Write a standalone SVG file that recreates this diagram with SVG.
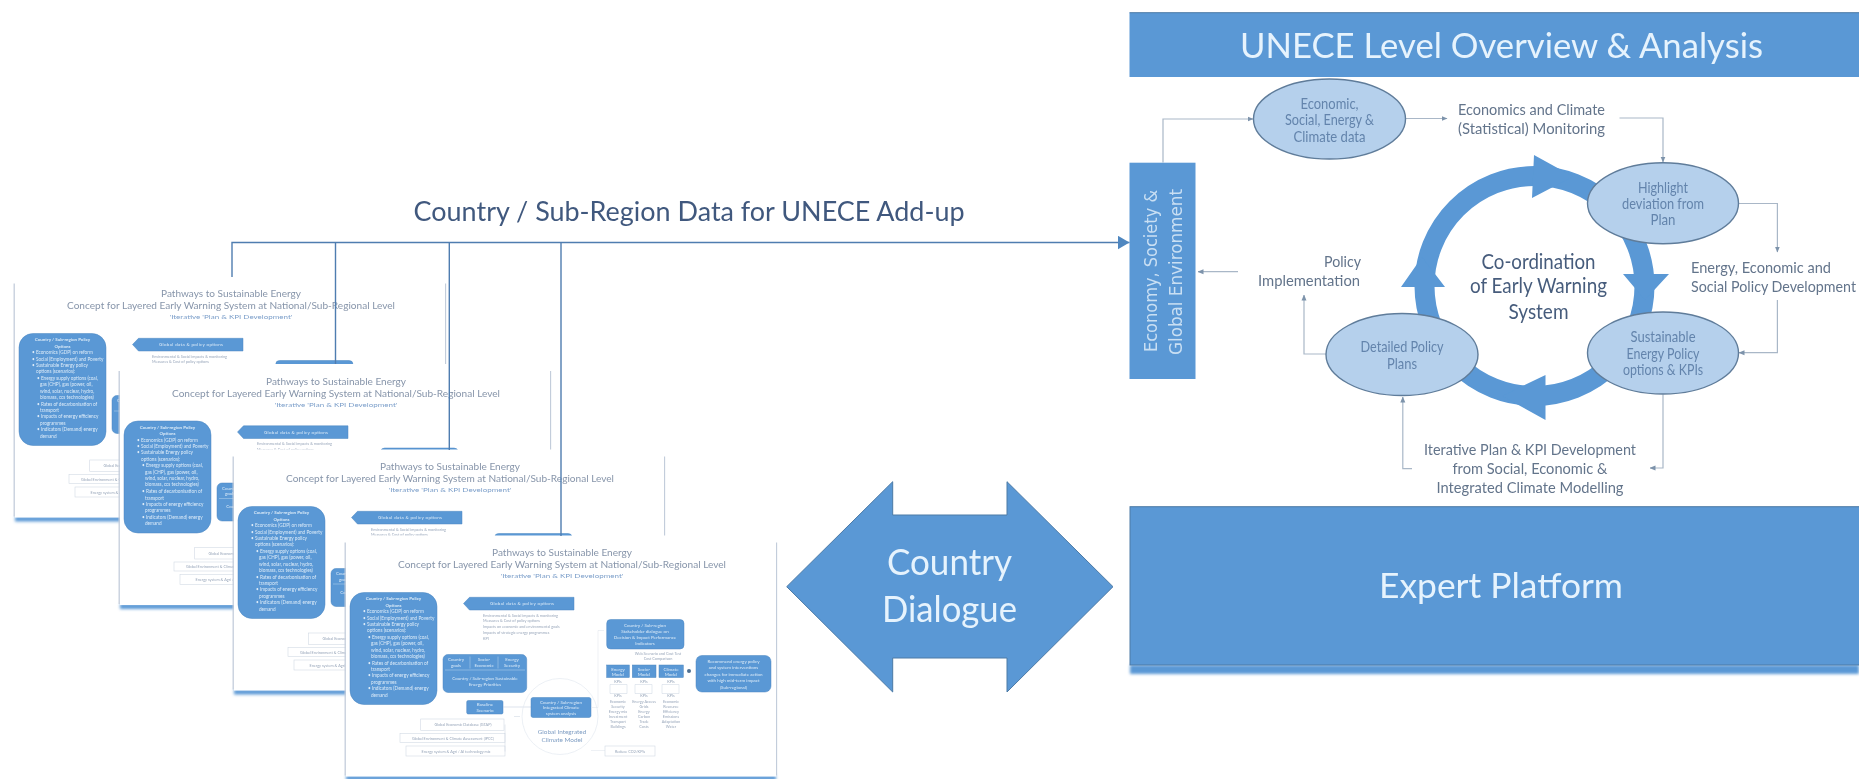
<svg xmlns="http://www.w3.org/2000/svg" xmlns:xlink="http://www.w3.org/1999/xlink" width="1859" height="779" viewBox="0 0 1859 779">
<style>
text{font-family:Lato,"Open Sans","Liberation Sans",sans-serif}
#connectors,#top-label,#country-dialogue,#unece-overview,#expert-platform,#economy-society,#cycle,#node-data,#node-deviation,#node-options,#node-plans,#label-monitoring,#label-policy-dev,#label-iterative,#label-implementation{filter:url(#b0)}
.blue{fill:#5a98d5}
.edge{stroke:#4c7aa6;stroke-width:1}
.band{fill:#5a98d5;filter:url(#b2)}
.ell{fill:#b5d0ec;stroke:#5f7c9a;stroke-width:1.4}
.ellt{fill:#6384ac;font-size:15px;text-anchor:middle}
.side{fill:#63748b;font-size:16px}
.ctr{fill:#465c7c;font-size:21px;text-anchor:middle}
.wt{fill:#e6f3fd}
.cn{fill:none;stroke:#a9b7c7;stroke-width:1.2;marker-end:url(#sm)}
.cm{fill:none;stroke:#4f7db0;stroke-width:1.4}
.s1{fill:#8795aa;font-size:9.6px;text-anchor:middle}
.s2{fill:#7c9fca;font-size:6.4px;text-anchor:middle}
.sw{fill:#dcebf8;font-size:4.7px}
.swc{fill:#dcebf8;font-size:4.5px;text-anchor:middle}
.sg{fill:#98a6ba;font-size:3.8px}
.sgc{fill:#98a6ba;font-size:3.8px;text-anchor:middle}
.so{fill:#fff;stroke:#d2dae4;stroke-width:.6}
.sb{fill:#5a98d5;stroke:#4c86c0;stroke-width:.5}
</style>
<defs>
<filter id="b2" x="-5%" y="-100%" width="110%" height="300%"><feGaussianBlur stdDeviation="1.6"/></filter>
<filter id="b1" x="-2%" y="-2%" width="104%" height="104%"><feGaussianBlur stdDeviation="0.7"/></filter>
<filter id="b0" x="-2%" y="-2%" width="104%" height="104%"><feGaussianBlur stdDeviation="0.4"/></filter>
<marker id="sm" viewBox="0 0 6 6" refX="5.5" refY="3" markerWidth="6" markerHeight="6" markerUnits="userSpaceOnUse" orient="auto"><path d="M0 .5L6 3L0 5.5z" fill="#7d93ab"/></marker>
<marker id="mm" viewBox="0 0 12 14" refX="12" refY="7" markerWidth="12" markerHeight="14" markerUnits="userSpaceOnUse" orient="auto"><path d="M0 0L12 7L0 14z" fill="#4f87c0"/></marker>
<g id="slide">
<rect class="band" x="0" y="240" width="430" height="5"/>
<path d="M-.8 7V240M430.5 7V240" fill="none" stroke="#c3cddb" stroke-width="1.3"/>
<rect x="0" y="0" width="430" height="241" fill="#fff"/>
<g filter="url(#b1)">
<text class="s1" x="216" y="20.5" textLength="140" lengthAdjust="spacingAndGlyphs">Pathways to Sustainable Energy</text>
<text class="s1" x="216" y="32.5" textLength="328" lengthAdjust="spacingAndGlyphs">Concept for Layered Early Warning System at National/Sub-Regional Level</text>
<text class="s2" x="216" y="42.5" textLength="123" lengthAdjust="spacingAndGlyphs">'Iterative 'Plan &amp; KPI Development'</text>
<rect class="sb" x="4" y="57" width="87" height="112" rx="14"/>
<text class="swc" x="47.5" y="64.5" font-weight="700">Country / Sub-region Policy</text>
<text class="swc" x="47.5" y="71" font-weight="700">Options</text>
<text class="sw" x="17" y="77.5">• Economics (GDP) on reform</text>
<text class="sw" x="17" y="84">• Social (Employment) and Poverty</text>
<text class="sw" x="17" y="90">• Sustainable Energy policy</text>
<text class="sw" x="21" y="96.5">options (scenarios):</text>
<text class="sw" x="22" y="103">• Energy supply options (coal,</text>
<text class="sw" x="25" y="109.5">gas (CHP), gas (power, oil,</text>
<text class="sw" x="25" y="116">wind, solar, nuclear, hydro,</text>
<text class="sw" x="25" y="122">biomass, ccs technologies)</text>
<text class="sw" x="22" y="129">• Rates of decarbonisation of</text>
<text class="sw" x="25" y="135.5">transport</text>
<text class="sw" x="22" y="141.5">• Impacts of energy efficiency</text>
<text class="sw" x="25" y="148">programmes</text>
<text class="sw" x="22" y="154.5">• Indicators (Demand) energy</text>
<text class="sw" x="25" y="161">demand</text>
<path class="sb" d="M117.5 68L123.5 61.8H228V74.5H123.5z"/>
<text class="swc" x="176" y="69.5" textLength="64">Global data &amp; policy options</text>
<g class="sg">
<text x="137" y="81">Environmental &amp; Social impacts &amp; monitoring</text>
<text x="137" y="86.8">Measures &amp; Cost of policy options</text>
<text x="137" y="92.6">Impacts on economic and environmental goals</text>
<text x="137" y="98.4">Impacts of strategic energy programmes</text>
<text x="137" y="104.2">KPI</text>
</g>
<rect class="sb" x="97" y="119" width="83.7" height="38" rx="5"/>
<text class="swc" x="110" y="125.5">Country</text><text class="swc" x="110" y="131">goals</text>
<text class="swc" x="138" y="125.5">Socio-</text><text class="swc" x="138" y="131">Economic</text>
<text class="swc" x="166" y="125.5">Energy</text><text class="swc" x="166" y="131">Security</text>
<path d="M124 121V133M152 121V133M99 134.5H179" stroke="#cfe2f5" stroke-width=".4" fill="none"/>
<text class="swc" x="139" y="144">Country / Sub-region Sustainable</text>
<text class="swc" x="139" y="150.5">Energy Priorities</text>
<rect class="sb" x="120.7" y="165" width="36.3" height="13.5" rx="1.5"/>
<text class="swc" x="139" y="170.5">Baseline</text><text class="swc" x="139" y="176">Scenario</text>
<path d="M157 171.5H185" stroke="#b8c7d8" stroke-width=".5"/>
<circle cx="214" cy="181" r="38" fill="none" stroke="#e4eaf1" stroke-width=".7"/>
<rect class="sb" x="185" y="162" width="60" height="20" rx="2"/>
<text class="swc" x="215" y="168">Country / Sub-region</text>
<text class="swc" x="215" y="173.5">Integrated Climate</text>
<text class="swc" x="215" y="179">system analysis</text>
<text x="216" y="198" font-size="6.4" fill="#7d9cc2" text-anchor="middle">Global Integrated</text>
<text x="216" y="206" font-size="6.4" fill="#7d9cc2" text-anchor="middle">Climate Model</text>
<rect class="so" x="74.7" y="183.5" width="83.3" height="11.5"/>
<rect class="so" x="54" y="198" width="105" height="9"/>
<rect class="so" x="60" y="210.5" width="99" height="10"/>
<text class="sgc" x="117" y="190.5">Global Economic Database (GTAP)</text>
<text class="sgc" x="107" y="204">Global Environment &amp; Climate Assessment (IPCC)</text>
<text class="sgc" x="110" y="217">Energy system &amp; Agri / AI technology mix</text>
<path d="M159 189V216M168 181H174" fill="none" stroke="#c9d3df" stroke-width=".5"/>
<path d="M245 215H259M258 95H252V172H245" fill="none" stroke="#dde3ea" stroke-width=".5"/>
<rect class="so" x="259" y="210.5" width="50" height="10"/>
<text class="sgc" x="284" y="217">Reduce CO2/KPIs</text>
<rect class="sb" x="260.7" y="84" width="77.3" height="29.5" rx="4"/>
<text class="swc" x="299" y="91">Country / Sub-region</text>
<text class="swc" x="299" y="97">Stakeholder dialogue on</text>
<text class="swc" x="299" y="103">Decision &amp; Impact Performance</text>
<text class="swc" x="299" y="109">Indicators</text>
<text class="sgc" x="312" y="119.5">Web Scenario and Cost Test</text>
<text class="sgc" x="312" y="124.5">Cost Comparison</text>
<rect class="sb" x="260.7" y="129.5" width="22.6" height="12.5"/>
<rect class="sb" x="286.3" y="129.5" width="23.7" height="12.5"/>
<rect class="sb" x="313" y="129.5" width="24.3" height="12.5"/>
<text class="swc" x="272" y="135">Energy</text><text class="swc" x="272" y="140">Model</text>
<text class="swc" x="298" y="135">Socio-</text><text class="swc" x="298" y="140">Model</text>
<text class="swc" x="325" y="135">Climate</text><text class="swc" x="325" y="140">Model</text>
<circle cx="343" cy="135.5" r="2" fill="#4f6f92"/>
<path d="M264 149H281V158H264zM289 149H306V158H289zM316 149H333V158H316z" fill="#fff" stroke="#cbd5e0" stroke-width=".5"/>
<g class="sgc">
<text x="272" y="147">KPIs</text><text x="298" y="147">KPIs</text><text x="325" y="147">KPIs</text>
<text x="272" y="161.5">KPIs</text><text x="298" y="161.5">KPIs</text><text x="325" y="161.5">KPIs</text>
<text x="272" y="167">Economic</text><text x="298" y="167">Energy Access</text><text x="325" y="167">Economic</text>
<text x="272" y="172">Security</text><text x="298" y="172">Grids</text><text x="325" y="172">Resource</text>
<text x="272" y="177">Energy mix</text><text x="298" y="177">Energy</text><text x="325" y="177">Efficiency</text>
<text x="272" y="182">Investment</text><text x="298" y="182">Carbon</text><text x="325" y="182">Emissions</text>
<text x="272" y="187">Transport</text><text x="298" y="187">Trade</text><text x="325" y="187">Adaptation</text>
<text x="272" y="192">Buildings</text><text x="298" y="192">Costs</text><text x="325" y="192">Water</text>
</g>
<rect class="sb" x="350" y="120" width="75" height="36.5" rx="6"/>
<text class="swc" x="387.5" y="127">Recommend energy policy</text>
<text class="swc" x="387.5" y="133.5">and system interventions</text>
<text class="swc" x="387.5" y="140">changes for immediate action</text>
<text class="swc" x="387.5" y="146.5">with high mid-term impact</text>
<text class="swc" x="387.5" y="153">(Sub-regional)</text>
</g>
</g>
</defs>
<rect width="1859" height="779" fill="#fff"/>
<g id="slide-1"><use href="#slide" x="15" y="276.5"/></g>
<g id="slide-2"><use href="#slide" x="120" y="364"/></g>
<g id="slide-3"><use href="#slide" x="234" y="449.5"/></g>
<g id="slide-4"><use href="#slide" x="346" y="535.5"/></g>
<g id="connectors">
<path class="cm" d="M232 277V242.5H1129.5" marker-end="url(#mm)"/>
<path class="cm" d="M335.5 243V364M449.3 243V450M561 243V536"/>
<path class="cn" d="M1163 162.5V119H1253"/>
<path class="cn" d="M1405 118.500H1447"/>
<path class="cn" d="M1619.500 118H1663V162"/>
<path class="cn" d="M1738 203.500H1777.400V252"/>
<path class="cn" d="M1777.400 300V352.700H1739"/>
<path class="cn" d="M1663 394.500V468H1650"/>
<path class="cn" d="M1412 468.700H1402.800V397"/>
<path class="cn" d="M1326 354H1304V295"/>
<path class="cn" d="M1238 271.700H1198"/>
</g>
<g id="top-label"><text x="413.600" y="220.700" font-size="27" fill="#41597e" textLength="551" lengthAdjust="spacingAndGlyphs">Country / Sub-Region Data for UNECE Add-up</text></g>
<g id="country-dialogue">
<path class="blue edge" d="M786.700 586.700L892.700 481.700V515H1007V481.700L1113 586.700L1007 692V658H892.700V692z"/>
<text class="wt" x="949.500" y="575" font-size="36" text-anchor="middle" textLength="125" lengthAdjust="spacingAndGlyphs">Country</text>
<text class="wt" x="949.500" y="622" font-size="36" text-anchor="middle" textLength="135" lengthAdjust="spacingAndGlyphs">Dialogue</text>
</g>
<g id="unece-overview">
<rect class="blue" x="1129.500" y="12.700" width="730" height="64.300"/>
<path d="M1129.500 12.700H1859" stroke="#4c7aa6" stroke-width="1"/>
<text class="wt" x="1240" y="58" font-size="35" textLength="523" lengthAdjust="spacingAndGlyphs">UNECE Level Overview &amp; Analysis</text>
</g>
<g id="expert-platform">
<rect class="band" x="1130" y="665" width="729" height="9"/>
<rect class="blue edge" x="1130" y="506.700" width="735" height="158.300"/>
<text class="wt" x="1379" y="598" font-size="35" textLength="244" lengthAdjust="spacingAndGlyphs">Expert Platform</text>
</g>
<g id="economy-society">
<rect class="blue" x="1129.500" y="162.700" width="66" height="216.300"/>
<text x="0" y="0" transform="translate(1157 271) rotate(-90)" font-size="17" fill="#c9dff3" text-anchor="middle" textLength="162" lengthAdjust="spacingAndGlyphs" style="font-family:'DejaVu Sans',sans-serif">Economy, Society &amp;</text>
<text x="0" y="0" transform="translate(1182 272) rotate(-90)" font-size="17" fill="#c9dff3" text-anchor="middle" textLength="166" lengthAdjust="spacingAndGlyphs" style="font-family:'DejaVu Sans',sans-serif">Global Environment</text>
</g>
<g id="cycle">
<circle cx="1534.500" cy="286" r="110" fill="none" stroke="#5a98d5" stroke-width="20"/>
<path class="blue" d="M1534 155L1573 176.500L1532 198zM1623 274H1669L1645 300zM1545.500 375V420L1502 396zM1401 287H1445L1422 257z"/>
<text class="ctr" x="1538.500" y="269" textLength="114" lengthAdjust="spacingAndGlyphs">Co-ordination</text>
<text class="ctr" x="1538.500" y="293" textLength="137" lengthAdjust="spacingAndGlyphs">of Early Warning</text>
<text class="ctr" x="1538.500" y="319" textLength="60" lengthAdjust="spacingAndGlyphs">System</text>
</g>
<g id="node-data">
<ellipse class="ell" cx="1329.500" cy="119" rx="76" ry="40"/>
<text class="ellt" x="1329.500" y="109" textLength="58" lengthAdjust="spacingAndGlyphs">Economic,</text>
<text class="ellt" x="1329.500" y="125" textLength="89" lengthAdjust="spacingAndGlyphs">Social, Energy &amp;</text>
<text class="ellt" x="1329.500" y="141.500" textLength="72" lengthAdjust="spacingAndGlyphs">Climate data</text>
</g>
<g id="node-deviation">
<ellipse class="ell" cx="1663" cy="203.300" rx="75.500" ry="40.500"/>
<text class="ellt" x="1663" y="192.500" textLength="50" lengthAdjust="spacingAndGlyphs">Highlight</text>
<text class="ellt" x="1663" y="209" textLength="82" lengthAdjust="spacingAndGlyphs">deviation from</text>
<text class="ellt" x="1663" y="225" textLength="25" lengthAdjust="spacingAndGlyphs">Plan</text>
</g>
<g id="node-options">
<ellipse class="ell" cx="1663" cy="353" rx="75.500" ry="41"/>
<text class="ellt" x="1663" y="342" textLength="65" lengthAdjust="spacingAndGlyphs">Sustainable</text>
<text class="ellt" x="1663" y="359" textLength="73" lengthAdjust="spacingAndGlyphs">Energy Policy</text>
<text class="ellt" x="1663" y="375" textLength="80" lengthAdjust="spacingAndGlyphs">options &amp; KPIs</text>
</g>
<g id="node-plans">
<ellipse class="ell" cx="1402" cy="354.500" rx="76" ry="41"/>
<text class="ellt" x="1402" y="351.500" textLength="83" lengthAdjust="spacingAndGlyphs">Detailed Policy</text>
<text class="ellt" x="1402" y="368.500" textLength="30" lengthAdjust="spacingAndGlyphs">Plans</text>
</g>
<g id="label-monitoring">
<text class="side" x="1458" y="114.500" textLength="147" lengthAdjust="spacingAndGlyphs">Economics and Climate</text>
<text class="side" x="1458" y="133.500" textLength="147" lengthAdjust="spacingAndGlyphs">(Statistical) Monitoring</text>
</g>
<g id="label-policy-dev">
<text class="side" x="1691" y="273" textLength="140" lengthAdjust="spacingAndGlyphs">Energy, Economic and</text>
<text class="side" x="1691" y="292" textLength="165" lengthAdjust="spacingAndGlyphs">Social Policy Development</text>
</g>
<g id="label-iterative">
<text class="side" x="1530" y="454.500" text-anchor="middle" textLength="212" lengthAdjust="spacingAndGlyphs">Iterative Plan &amp; KPI Development</text>
<text class="side" x="1530" y="474" text-anchor="middle" textLength="155" lengthAdjust="spacingAndGlyphs">from Social, Economic &amp;</text>
<text class="side" x="1530" y="493" text-anchor="middle" textLength="187" lengthAdjust="spacingAndGlyphs">Integrated Climate Modelling</text>
</g>
<g id="label-implementation">
<text class="side" x="1361" y="267" text-anchor="end" textLength="37" lengthAdjust="spacingAndGlyphs">Policy</text>
<text class="side" x="1360" y="286" text-anchor="end" textLength="102" lengthAdjust="spacingAndGlyphs">Implementation</text>
</g>
</svg>
